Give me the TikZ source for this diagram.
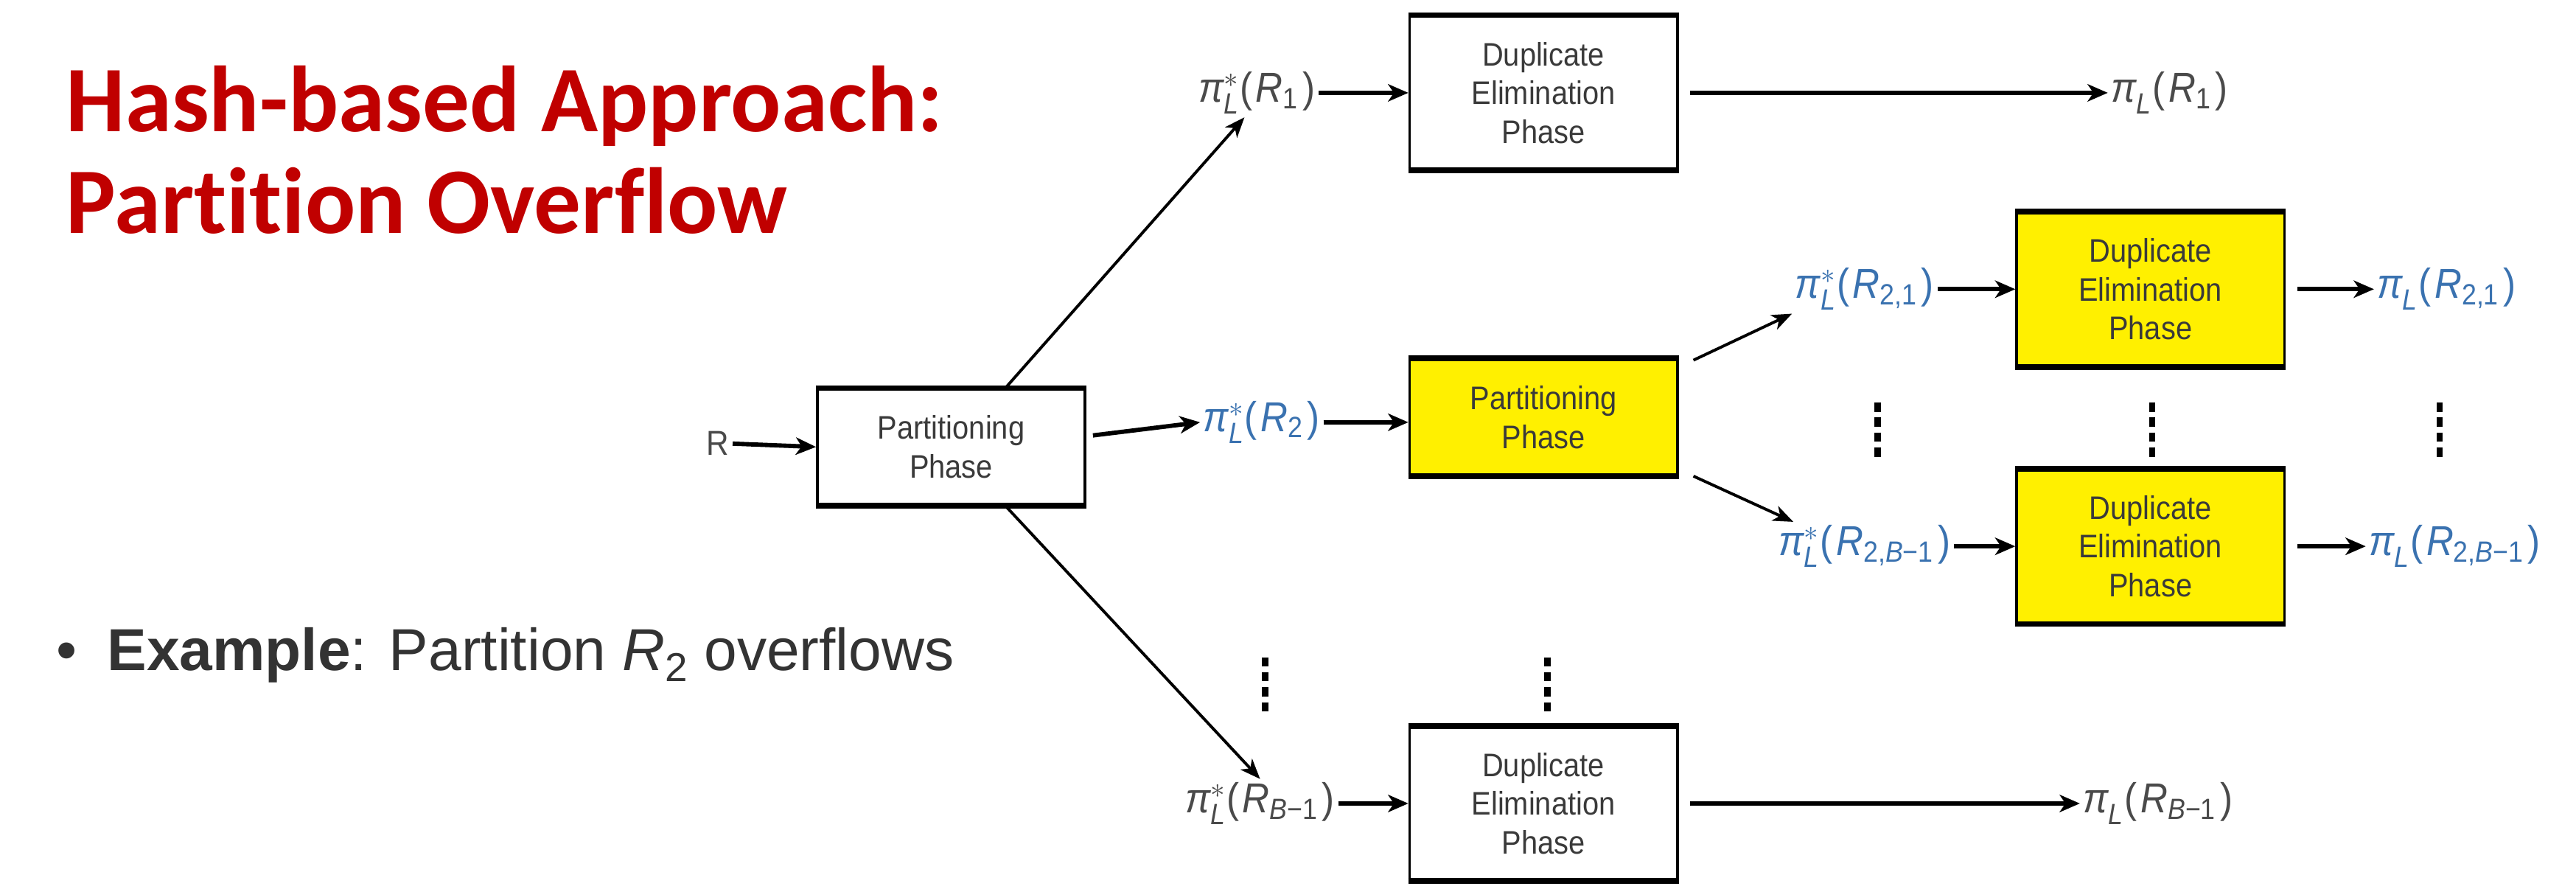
\documentclass[tikz,border=0pt]{standalone}
\usepackage{amsmath}
\usepackage{fontspec}
\usetikzlibrary{arrows.meta,calc}
\setmainfont{Liberation Sans}
\newfontfamily\titlefont[Ligatures=NoCommon]{Carlito}
\newfontfamily\diagfont[FakeStretch=0.9]{Liberation Sans}
\definecolor{titlered}{HTML}{C00000}
\definecolor{boxyellow}{HTML}{FFF000}
\definecolor{lblue}{HTML}{3A72B0}
\definecolor{tgray}{HTML}{3A3A3A}
\definecolor{lgray}{HTML}{4A4A4A}
\definecolor{bgray}{HTML}{333333}
% sans-italic projection labels
\newcommand\plab[3]{$\text{\itshape π}^{#1}_{\text{\itshape L}}\text{(\kern0.08em}\text{\itshape R}_{#2}\text{\kern0.08em)}$}
\begin{document}
\begin{tikzpicture}[x=0.02cm,y=-0.02cm,
  box/.style={draw=black, line width=0.9pt, minimum width=3.26cm, text=tgray, align=center,
    font=\diagfont\fontsize{11.3}{13.4}\selectfont, inner sep=0pt},
  pbox/.style={box, minimum height=1.4cm},
  dbox/.style={box, minimum height=1.86cm},
  ybox/.style={fill=boxyellow},
  lbl/.style={font=\diagfont\fontsize{14.5}{16}\selectfont, inner sep=1pt, text=lgray},
  blbl/.style={lbl, text=lblue},
  arr/.style={-{Stealth[length=7pt,width=6pt,inset=2pt]}, line width=1.5pt},
  darr/.style={-{Stealth[length=7pt,width=5.5pt,inset=2pt]}, line width=1pt},
  vdots/.style={line width=2.2pt, dash pattern=on 3.2pt off 2pt},
]
\useasboundingbox (0,0) rectangle (1568,541);

% title and bullet
\node (t1) [anchor=base west, inner sep=0pt, text=titlered, font=\titlefont\bfseries\fontsize{32.5}{36}\selectfont] at (40,80) {Hash-based Approach:};
\node (t2) [anchor=base west, inner sep=0pt, text=titlered, font=\titlefont\bfseries\fontsize{32.5}{36}\selectfont] at (40,142) {Partition Overflow};
\node (bul) [anchor=base west, inner sep=0pt, text=bgray, font=\fontsize{20.5}{24}\selectfont] at (34,408) {\textbullet};
\node (ex) [anchor=base west, inner sep=0pt, text=bgray, font=\fontsize{20.5}{24}\selectfont] at (65,408)
  {\textbf{Example}: Partition {\itshape R}\raisebox{-0.35ex}{\fontsize{14}{14}\selectfont 2} overflows};

% boxes
\node (P1) [pbox] at (579,272) {Partitioning\\Phase};
\node (D1) [dbox] at (939.5,56.5) {Duplicate\\Elimination\\Phase};
\node (YP) [pbox, ybox] at (939.5,254) {Partitioning\\Phase};
\node (DB) [dbox] at (939.5,489) {Duplicate\\Elimination\\Phase};
\node (YD1) [dbox, ybox] at (1309,176) {Duplicate\\Elimination\\Phase};
\node (YD2) [dbox, ybox] at (1309,332.5) {Duplicate\\Elimination\\Phase};
\foreach \n in {P1,D1,YP,DB,YD1,YD2}{
  \draw[line width=2pt] (\n.north west) -- (\n.north east) (\n.south west) -- (\n.south east);
}

% labels
\node (R) [lbl, font=\diagfont\fontsize{12}{14}\selectfont] at (437,270) {R};
\node (l1) [lbl] at (765,56.5) {\plab{*}{\text{1}}{}};
\node (o1) [lbl, anchor=west] at (1283,56.5) {\plab{}{\text{1}}{}};
\node (l2) [blbl] at (768,257) {\plab{*}{\text{2}}{}};
\node (l21) [blbl] at (1135,176) {\plab{*}{\text{2,1}}{}};
\node (o21) [blbl, anchor=west] at (1445,176) {\plab{}{\text{2,1}}{}};
\node (l2B) [blbl] at (1135,332.5) {\plab{*}{\text{2,\itshape B\upshape −1}}{}};
\node (o2B) [blbl, anchor=west] at (1440,332.5) {\plab{}{\text{2,\itshape B\upshape −1}}{}};
\node (lB) [lbl] at (767,489) {\plab{*}{\text{\itshape B\upshape −1}}{}};
\node (oB) [lbl, anchor=west] at (1266,489) {\plab{}{\text{\itshape B\upshape −1}}{}};

% connectors
\draw[arr] (R.east) -- (P1.west);
\draw[darr] ($(P1.north)!0.4!(P1.north east)$) -- ($(l1.south west)!0.4!(l1.south east)$);
\draw[arr] ($(P1.east)+(4,-7)$) -- (l2.west);
\draw[darr] ($(P1.south)!0.4!(P1.south east)$) -- ($(lB.north west)!0.5!(lB.north east)$);
\draw[arr] (l1.east) -- (l1.east -| D1.west);
\draw[arr] ($(D1.east)+(7,0)$) -- (o1.west);
\draw[arr] (l2.east) -- (l2.east -| YP.west);
\draw[darr] ($(YP.north east)+(9,1)$) -- (l21.south west);
\draw[darr] ($(YP.south east)+(9,0)$) -- ($(l2B.north west)!0.1!(l2B.north east)$);
\draw[arr] (l21.east) -- (l21.east -| YD1.west);
\draw[arr] ($(YD1.east)+(7,0)$) -- (o21.west);
\draw[arr] (l2B.east) -- (l2B.east -| YD2.west);
\draw[arr] ($(YD2.east)+(7,0)$) -- (o2B.west);
\draw[arr] (lB.east) -- (lB.east -| DB.west);
\draw[arr] ($(DB.east)+(7,0)$) -- (oB.west);

% vertical dots
\draw[vdots] (770,400) -- (770,433);
\draw[vdots] (942,400) -- (942,433);
\draw[vdots] (1143,245) -- (1143,278);
\draw[vdots] (1310,245) -- (1310,278);
\draw[vdots] (1485,245) -- (1485,278);
\end{tikzpicture}
\end{document}
